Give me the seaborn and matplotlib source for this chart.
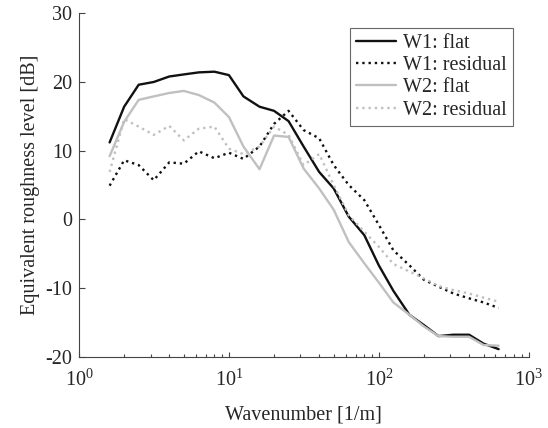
import numpy as np
import pandas as pd
import matplotlib
matplotlib.use("Agg")
import matplotlib.pyplot as plt
import seaborn as sns

wavenumber = [1.6, 2, 2.5, 3.15, 4, 5, 6.3, 8, 10, 12.5, 16, 20, 25, 31.5, 40, 50,
              63, 80, 100, 125, 160, 200, 250, 315, 400, 500, 630]
w1_flat = [11.2, 16.4, 19.6, 20.0, 20.8, 21.1, 21.4, 21.5, 21.0, 17.9, 16.4, 15.8, 14.3,
           10.6, 6.9, 4.5, 0.4, -2.3, -6.7, -10.4, -13.9, -15.4, -17.0, -16.8, -16.8, -18.1, -18.9]
w1_resid = [4.9, 8.6, 7.9, 5.7, 8.3, 8.1, 9.9, 8.9, 9.7, 8.8, 10.6, 13.9, 15.8,
            13.0, 11.8, 7.9, 5.0, 2.8, -0.8, -4.5, -6.7, -8.8, -9.8, -10.8, -11.5, -12.1, -12.9]
w2_flat = [9.2, 14.2, 17.4, 17.9, 18.4, 18.7, 18.1, 17.0, 14.9, 10.6, 7.3, 12.2, 12.0,
           7.4, 4.5, 1.4, -3.3, -6.4, -9.2, -12.1, -13.9, -15.6, -17.0, -17.1, -17.1, -18.3, -18.4]
w2_resid = [6.9, 14.6, 13.5, 12.3, 13.6, 11.5, 13.2, 13.5, 10.3, 9.5, 10.6, 13.5, 12.3,
            7.9, 9.5, 5.0, 0.6, -1.8, -4.0, -6.5, -7.6, -8.6, -9.7, -10.3, -10.8, -11.4, -12.0]
series_names = ["W1: flat", "W1: residual", "W2: flat", "W2: residual"]

sns.set_style("ticks")
plt.rcParams['font.family'] = ['Liberation Serif', 'DejaVu Serif']
plt.rcParams['mathtext.fontset'] = 'custom'
plt.rcParams['mathtext.rm'] = 'Liberation Serif'
plt.rcParams['mathtext.it'] = 'Liberation Serif:italic'
plt.rcParams['axes.unicode_minus'] = False
plt.rcParams['xtick.direction'] = 'in'
plt.rcParams['ytick.direction'] = 'in'

fig = plt.figure(figsize=(5.48, 4.28), dpi=100)
ax = fig.add_axes([0.1442, 0.1666, 0.8206, 0.8023])

styles = [dict(color="#111111", linestyle="-"),
          dict(color="#111111", linestyle=":"),
          dict(color="#c0c0c0", linestyle="-"),
          dict(color="#c0c0c0", linestyle=":")]
for name, vals, st in zip(series_names, [w1_flat, w1_resid, w2_flat, w2_resid], styles):
    df = pd.DataFrame({"k": wavenumber, "L": vals})
    sns.lineplot(data=df, x="k", y="L", ax=ax, label=name, linewidth=1.7, **st)

ax.set_xscale("log")
ax.set_xlim(1, 1000)
ax.set_ylim(-20, 30)
ax.set_yticks([-20, -10, 0, 10, 20, 30])
ax.set_xlabel("Wavenumber [1/m]", fontsize=14.5, labelpad=11)
ax.set_ylabel("Equivalent roughness level [dB]", fontsize=14.5, labelpad=4)
ax.tick_params(axis="both", which="both", bottom=True, left=True, top=False, right=False,
               color="#444444", width=0.8)
ax.tick_params(axis="y", which="major", labelsize=14.5, length=4.5, pad=5)
ax.tick_params(axis="x", which="major", labelsize=14.5, length=3.5, pad=9)
ax.tick_params(axis="x", which="minor", length=2.5)
for s in ["top", "right"]:
    ax.spines[s].set_visible(False)
for s in ["left", "bottom"]:
    ax.spines[s].set_color("#444444")
    ax.spines[s].set_linewidth(0.8)

leg = ax.legend(loc="upper right", bbox_to_anchor=(0.965, 0.957), fontsize=14.5, frameon=True,
                fancybox=False, edgecolor="#444444", handlelength=2.0, handletextpad=0.35,
                borderpad=0.3, labelspacing=0.15, borderaxespad=0)
leg.get_frame().set_linewidth(0.8)

fig.savefig("out.png", dpi=100)
